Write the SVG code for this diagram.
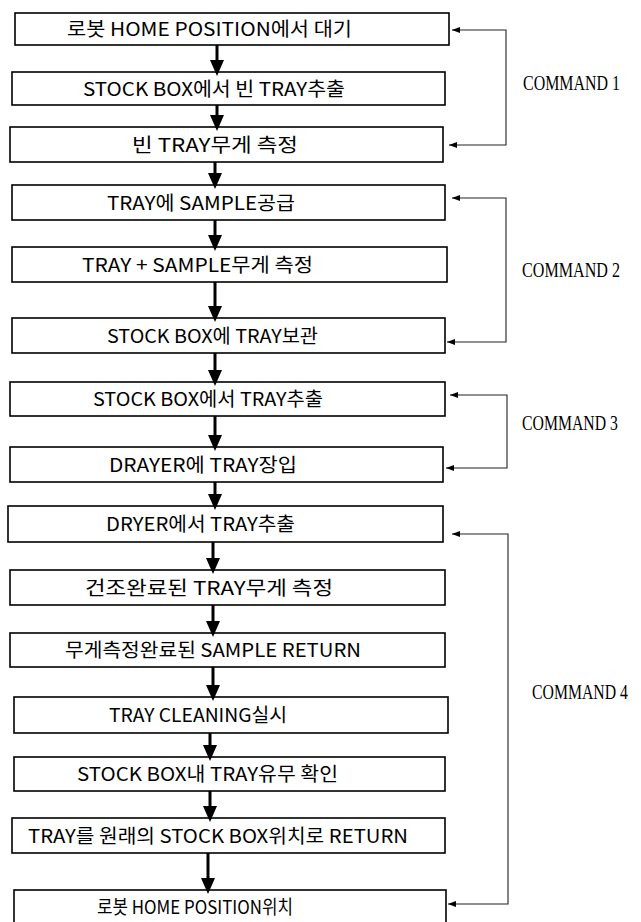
<svg xmlns="http://www.w3.org/2000/svg" width="641" height="922" viewBox="0 0 641 922">
<style>
.box{fill:#fff;stroke:#000;stroke-width:1.6}
.lbl{font-family:"Noto Sans CJK KR","DejaVu Sans",sans-serif;font-size:19px;fill:#000}
.cmd{font-family:"Liberation Serif","Times New Roman",serif;font-size:16px;fill:#000}
.flow{stroke:#000;stroke-width:3;fill:none;marker-end:url(#down)}
.cmdline{stroke:#222;stroke-width:1.1;fill:none;marker-start:url(#sm);marker-end:url(#sm)}
</style>
<defs>
<marker id="down" viewBox="0 0 16 14" refX="12" refY="7" markerWidth="16" markerHeight="14" orient="auto" markerUnits="userSpaceOnUse"><path d="M0,0 L16,7 L0,14 z" fill="#000"/></marker>
<marker id="sm" viewBox="0 0 8 6" refX="8" refY="3" markerWidth="8" markerHeight="6" orient="auto-start-reverse" markerUnits="userSpaceOnUse"><path d="M0,0 L8,3 L0,6 z" fill="#000"/></marker>
</defs>
<rect width="641" height="922" fill="#fff"/>
<g id="n1"><rect class="box" x="15" y="13" width="434" height="32"/><text class="lbl" x="67" y="36" textLength="285" lengthAdjust="spacingAndGlyphs">로봇 HOME POSITION에서 대기</text></g>
<g id="n2"><rect class="box" x="12" y="72" width="433" height="33"/><text class="lbl" x="83" y="95.5" textLength="262" lengthAdjust="spacingAndGlyphs">STOCK BOX에서 빈 TRAY추출</text></g>
<g id="n3"><rect class="box" x="10" y="127" width="433" height="35"/><text class="lbl" x="132" y="151.5" textLength="166" lengthAdjust="spacingAndGlyphs">빈 TRAY무게 측정</text></g>
<g id="n4"><rect class="box" x="12" y="185" width="433" height="35"/><text class="lbl" x="107" y="209.5" textLength="188" lengthAdjust="spacingAndGlyphs">TRAY에 SAMPLE공급</text></g>
<g id="n5"><rect class="box" x="12" y="247" width="435" height="35"/><text class="lbl" x="82" y="271.5" textLength="231" lengthAdjust="spacingAndGlyphs">TRAY + SAMPLE무게 측정</text></g>
<g id="n6"><rect class="box" x="12" y="318" width="433" height="35"/><text class="lbl" x="107" y="342.5" textLength="211" lengthAdjust="spacingAndGlyphs">STOCK BOX에 TRAY보관</text></g>
<g id="n7"><rect class="box" x="10" y="382" width="435" height="34"/><text class="lbl" x="93" y="406" textLength="230" lengthAdjust="spacingAndGlyphs">STOCK BOX에서 TRAY추출</text></g>
<g id="n8"><rect class="box" x="10" y="447" width="433" height="35"/><text class="lbl" x="109" y="471.5" textLength="188" lengthAdjust="spacingAndGlyphs">DRAYER에 TRAY장입</text></g>
<g id="n9"><rect class="box" x="8" y="506" width="435" height="36"/><text class="lbl" x="106" y="531" textLength="189" lengthAdjust="spacingAndGlyphs">DRYER에서 TRAY추출</text></g>
<g id="n10"><rect class="box" x="10" y="570" width="435" height="35"/><text class="lbl" x="85" y="594.5" textLength="248" lengthAdjust="spacingAndGlyphs">건조완료된 TRAY무게 측정</text></g>
<g id="n11"><rect class="box" x="10" y="633" width="435" height="34"/><text class="lbl" x="65" y="657" textLength="296" lengthAdjust="spacingAndGlyphs">무게측정완료된 SAMPLE RETURN</text></g>
<g id="n12"><rect class="box" x="14" y="697" width="434" height="36"/><text class="lbl" x="109" y="722" textLength="178" lengthAdjust="spacingAndGlyphs">TRAY CLEANING실시</text></g>
<g id="n13"><rect class="box" x="14" y="757" width="431" height="34"/><text class="lbl" x="77" y="781" textLength="261" lengthAdjust="spacingAndGlyphs">STOCK BOX내 TRAY유무 확인</text></g>
<g id="n14"><rect class="box" x="12" y="818" width="433" height="35"/><text class="lbl" x="28" y="842.5" textLength="380" lengthAdjust="spacingAndGlyphs">TRAY를 원래의 STOCK BOX위치로 RETURN</text></g>
<g id="n15"><rect class="box" x="14" y="890" width="432" height="35"/><text class="lbl" x="97" y="914" textLength="196" lengthAdjust="spacingAndGlyphs">로봇 HOME POSITION위치</text></g>
<g id="labels">
<text class="cmd" transform="translate(523,90) scale(1,1.3)" x="0" y="0" textLength="97" lengthAdjust="spacingAndGlyphs">COMMAND 1</text>
<text class="cmd" transform="translate(522,277) scale(1,1.3)" x="0" y="0" textLength="98" lengthAdjust="spacingAndGlyphs">COMMAND 2</text>
<text class="cmd" transform="translate(522,430) scale(1,1.3)" x="0" y="0" textLength="96" lengthAdjust="spacingAndGlyphs">COMMAND 3</text>
<text class="cmd" transform="translate(532,699) scale(1,1.3)" x="0" y="0" textLength="96" lengthAdjust="spacingAndGlyphs">COMMAND 4</text>
</g>
<g id="connectors">
<path class="flow" d="M217,45 V72"/>
<path class="flow" d="M217,105 V127"/>
<path class="flow" d="M215,162 V185"/>
<path class="flow" d="M215,220 V247"/>
<path class="flow" d="M215,282 V318"/>
<path class="flow" d="M215,353 V382"/>
<path class="flow" d="M215,416 V447"/>
<path class="flow" d="M215,482 V506"/>
<path class="flow" d="M213,542 V570"/>
<path class="flow" d="M213,605 V633"/>
<path class="flow" d="M213,667 V697"/>
<path class="flow" d="M210,733 V757"/>
<path class="flow" d="M210,791 V818"/>
<path class="flow" d="M208,853 V890"/>
<path class="cmdline" d="M452,30 H506 V145 H449"/>
<path class="cmdline" d="M452,198 H506 V342 H447"/>
<path class="cmdline" d="M450,395 H507 V468 H446"/>
<path class="cmdline" d="M452,534 H508 V904 H448"/>
</g>
</svg>
